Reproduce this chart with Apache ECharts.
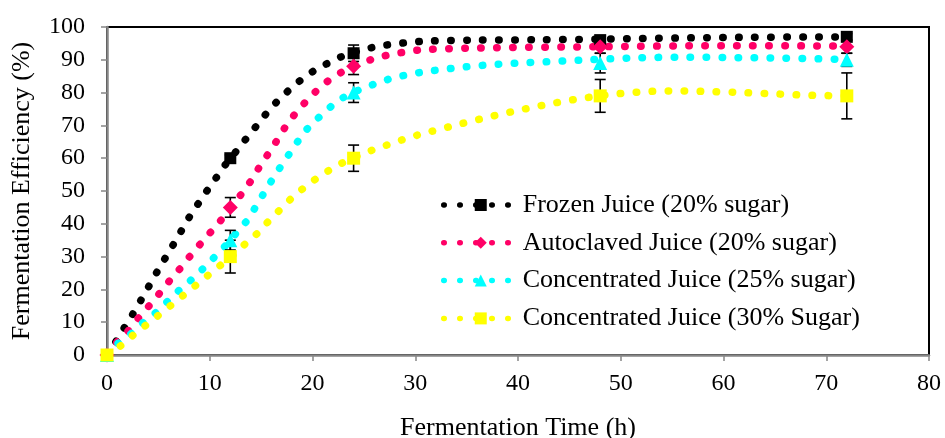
<!DOCTYPE html>
<html>
<head>
<meta charset="utf-8">
<script src="https://cdn.jsdelivr.net/npm/echarts@6/dist/echarts.min.js"></script>
<style>
html,body{margin:0;padding:0;background:#fff;}
#chart{width:945px;height:438px;}
</style>
</head>
<body>
<div id="chart"></div>
<script>
// ---- data ----
const seriesNames = [
  'Frozen Juice (20% sugar)',
  'Autoclaved Juice (20% sugar)',
  'Concentrated Juice (25% sugar)',
  'Concentrated Juice (30% Sugar)'
];
const times = [0, 12, 24, 48, 72];
const frozen = [0, 60, 92, 96, 97];
const frozenErr = [0, 1, 2.5, 1, 1];
const autoclaved = [0, 45, 88, 94, 94];
const autoclavedErr = [0, 3, 2.5, 2, 2];
const conc25 = [0, 35, 80, 89, 90];
const conc25Err = [0, 3, 3, 3, 2];
const conc30 = [0, 30, 60, 79, 79];
const conc30Err = [0, 5, 4, 5, 7];

// trend curves (dotted): [time, efficiency]
const frozenTrend = [[0,0],[0.87,4.1],[1.68,8.3],[2.52,12.5],[3.32,16.8],[4.1,21.1],[4.9,25.5],[5.7,29.7],[6.5,33.9],[7.3,38.2],[8.1,42.5],[9.0,46.7],[9.89,50.8],[10.8,54.8],[11.7,58.8],[12.73,62.7],[13.7,66.6],[14.74,70.6],[15.71,74.4],[16.78,78.0],[17.91,81.3],[19.1,84.4],[20.43,87.2],[21.85,89.5],[23.24,91.5],[24.85,93.0],[26.38,94.1],[27.93,94.8],[29.48,95.3],[31,95.7],[36,96.0],[42,96.1],[48,96.3],[60,96.8],[72,97.0]];
const autoclavedTrend = [[0,0],[0.94,3.8],[2.07,7.4],[3.1,11.4],[4.1,15.0],[5.14,18.9],[6.11,22.7],[7.15,26.5],[8.15,30.4],[9.18,34.2],[10.21,37.9],[11.22,41.6],[12.19,45.6],[13.16,49.4],[14.09,53.5],[14.93,57.8],[15.81,61.9],[16.68,66.1],[17.52,70.3],[18.49,74.2],[19.52,77.8],[20.65,81.3],[21.88,84.4],[23.24,86.9],[24.7,88.9],[26.15,90.5],[27.7,91.7],[29.28,92.5],[30.84,93.1],[36,93.6],[48,94.0],[60,94.3],[72,94.2]];
const conc25Trend = [[0,0],[1.1,3.6],[2.39,6.6],[3.52,9.9],[4.75,12.9],[5.95,16.5],[7.08,19.9],[8.27,23.1],[9.41,26.5],[10.54,30.1],[11.61,33.6],[12.64,37.4],[13.7,41.3],[14.51,45.4],[15.32,49.6],[16.13,53.7],[17.0,57.9],[17.91,62.1],[18.81,66.2],[19.78,70.0],[20.97,73.4],[22.21,76.8],[23.56,79.5],[24.95,81.3],[26.47,83.1],[27.99,84.6],[29.55,85.6],[31,86.4],[34.2,87.6],[37.3,88.5],[40.6,89.1],[43.6,89.5],[46.8,90.0],[51.5,90.6],[56,90.8],[60,90.7],[66,90.5],[72,90.1]];
const conc30Trend = [[0,0],[1.33,2.8],[2.49,5.9],[3.75,9.0],[4.97,12.0],[6.21,15.1],[7.47,18.3],[8.7,21.4],[9.92,24.5],[11.18,27.7],[12.4,30.8],[13.6,34.3],[14.77,37.5],[15.81,41.1],[16.94,44.6],[18.07,48.1],[19.3,51.3],[20.56,54.2],[21.89,56.8],[23.24,59.1],[24.8,61.2],[26.21,62.9],[27.7,64.5],[29.22,66.1],[30.74,67.5],[33.7,69.9],[36.8,72.3],[39.9,74.5],[43.0,76.5],[46.1,78.2],[49.3,79.5],[52.4,80.3],[55.5,80.5],[58.7,80.3],[61.9,80.0],[65.0,79.6],[68.2,79.2],[72,79.0]];

const xTicks = {min: 0, max: 80, interval: 10};
const yTicks = {min: 0, max: 100, interval: 10};

// ---- styling ----
const FONT = '"Liberation Serif", "Times New Roman", serif';
const colors = ['#000000', '#FF0066', '#00FFFF', '#FFFF00'];
const symbols = ['rect', 'diamond', 'triangle', 'rect'];
const symSizes = [12, 15, 14, 13];
const values = [frozen, autoclaved, conc25, conc30];
const errs = [frozenErr, autoclavedErr, conc25Err, conc30Err];
const trends = [frozenTrend, autoclavedTrend, conc25Trend, conc30Trend];

const series = [];
// trend lines (dotted)
seriesNames.forEach((name, i) => {
  series.push({
    name: name,
    type: 'line',
    data: trends[i],
    smooth: 0.3,
    symbol: symbols[i],
    symbolSize: symSizes[i],
    showSymbol: false,
    silent: true,
    z: 2 + i * 0.1,
    itemStyle: {color: colors[i]},
    lineStyle: {color: colors[i], width: 7.5, type: [0.5, 15.5], cap: 'round'}
  });
});
// error bars
seriesNames.forEach((name, i) => {
  series.push({
    name: name + ' err',
    type: 'custom',
    silent: true,
    z: 3 + i * 0.1,
    data: times.map((t, k) => [t, values[i][k], errs[i][k]]),
    encode: {x: 0, y: 1},
    renderItem: function (params, api) {
      const x = api.value(0), y = api.value(1), e = api.value(2);
      if (!e) return null;
      const top = api.coord([x, y + e]);
      const bot = api.coord([x, y - e]);
      const hw = 5.5;
      const st = {stroke: '#000', lineWidth: 1.6};
      return {type: 'group', children: [
        {type: 'line', shape: {x1: top[0], y1: top[1], x2: bot[0], y2: bot[1]}, style: st},
        {type: 'line', shape: {x1: top[0] - hw, y1: top[1], x2: top[0] + hw, y2: top[1]}, style: st},
        {type: 'line', shape: {x1: bot[0] - hw, y1: bot[1], x2: bot[0] + hw, y2: bot[1]}, style: st}
      ]};
    }
  });
});
// measured points
seriesNames.forEach((name, i) => {
  series.push({
    name: name + ' pts',
    type: 'scatter',
    silent: true,
    z: 4 + i * 0.1,
    symbol: symbols[i],
    symbolSize: symSizes[i],
    itemStyle: {color: colors[i], opacity: 1},
    data: times.map((t, k) => [t, values[i][k]])
  });
});

const chart = echarts.init(document.getElementById('chart'), null, {renderer: 'canvas'});
chart.setOption({
  animation: false,
  backgroundColor: '#ffffff',
  textStyle: {fontFamily: FONT},
  grid: {left: 107, right: 16, top: 27, bottom: 83, containLabel: false, outerBoundsMode: 'none',
         show: true, borderColor: '#000', borderWidth: 2, backgroundColor: 'transparent'},
  legend: {
    data: seriesNames,
    orient: 'vertical',
    left: 436,
    top: 187,
    padding: 5,
    itemWidth: 74,
    itemHeight: 15,
    itemGap: 11.8,
    selectedMode: false,
    textStyle: {fontFamily: FONT, fontSize: 26, color: '#000'},
    lineStyle: {width: 5.5, type: [0.5, 15.5], cap: 'round'}
  },
  xAxis: {
    type: 'value',
    min: xTicks.min, max: xTicks.max, interval: xTicks.interval,
    name: 'Fermentation Time (h)',
    nameLocation: 'middle',
    nameGap: 60,
    nameTextStyle: {fontFamily: FONT, fontSize: 26, color: '#000'},
    axisLine: {lineStyle: {color: '#868686', width: 2.5}},
    axisTick: {show: true, inside: false, length: 6, lineStyle: {color: '#868686', width: 1.5}},
    axisLabel: {fontFamily: FONT, fontSize: 24, color: '#000', margin: 17},
    splitLine: {show: false}
  },
  yAxis: {
    type: 'value',
    min: yTicks.min, max: yTicks.max, interval: yTicks.interval,
    name: 'Fermentation Efficiency (%)',
    nameLocation: 'middle',
    nameGap: 72,
    nameTextStyle: {fontFamily: FONT, fontSize: 26, color: '#000'},
    axisLine: {show: true, lineStyle: {color: '#868686', width: 2.5}},
    axisTick: {show: true, inside: false, length: 6, lineStyle: {color: '#868686', width: 1.5}},
    axisLabel: {fontFamily: FONT, fontSize: 24, color: '#000', margin: 22},
    splitLine: {show: false}
  },
  series: series
});
</script>
</body>
</html>
